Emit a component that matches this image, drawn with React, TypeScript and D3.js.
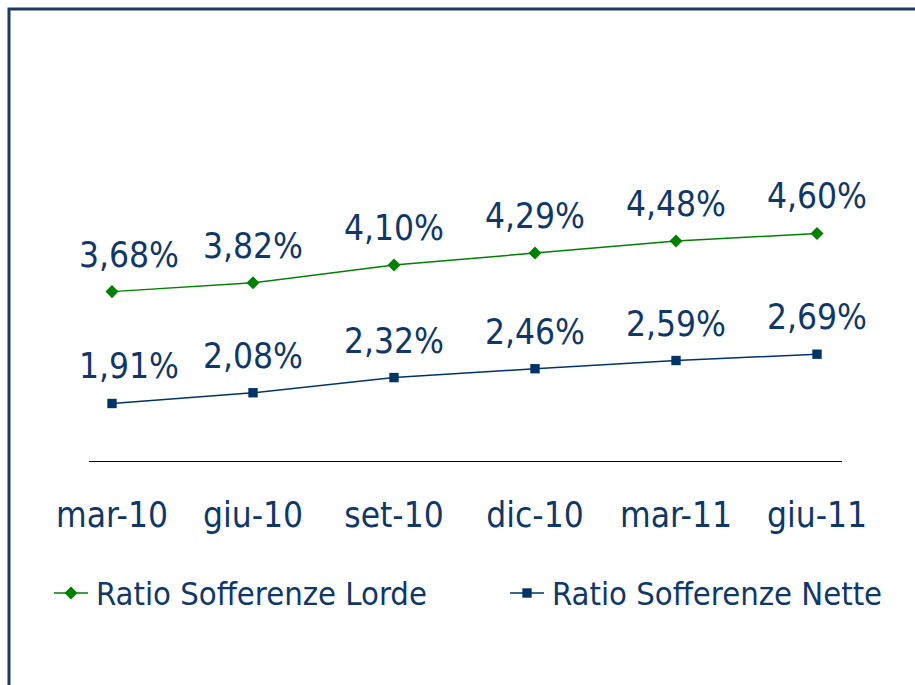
import React, { useEffect, useRef } from 'react';
import * as d3 from 'd3';

const categories = ['mar-10', 'giu-10', 'set-10', 'dic-10', 'mar-11', 'giu-11'];
const lordeValues = [3.68, 3.82, 4.10, 4.29, 4.48, 4.60];
const netteValues = [1.91, 2.08, 2.32, 2.46, 2.59, 2.69];
const seriesNames = ['Ratio Sofferenze Lorde', 'Ratio Sofferenze Nette'];

const W = 915;
const H = 685;
const FONT = '"DejaVu Sans Condensed", "DejaVu Sans", sans-serif';
const TEXT = '#0f3868';
const GREEN = '#008000';
const NAVY = '#003366';

function fmt(v: number) {
  return v.toFixed(2).replace('.', ',') + '%';
}

export default function App() {
  const ref = useRef<SVGSVGElement>(null);

  useEffect(() => {
    const svg = d3.select(ref.current);
    svg.selectAll('*').remove();

    // frame
    svg.append('rect')
      .attr('x', 9).attr('y', 9)
      .attr('width', W).attr('height', H)
      .attr('fill', 'none')
      .attr('stroke', '#1f3864')
      .attr('stroke-width', 3);

    const x = d3.scalePoint<string>().domain(categories).range([112, 817]);
    const y = d3.scaleLinear().domain([1, 6]).range([461, 145]);

    // category axis line
    svg.append('line')
      .attr('x1', 89).attr('x2', 842)
      .attr('y1', y(1) + 0.5).attr('y2', y(1) + 0.5)
      .attr('stroke', '#000').attr('stroke-width', 1);

    svg.append('g').selectAll('text')
      .data(categories)
      .enter().append('text')
      .attr('x', d => x(d)!)
      .attr('y', 527)
      .attr('text-anchor', 'middle')
      .style('font-family', FONT)
      .style('font-size', '35px')
      .attr('fill', TEXT)
      .text(d => d);

    // diamond = square turned by 45 degrees
    const series = [
      { name: seriesNames[0], values: lordeValues, color: GREEN, size: 85, rot: 45 },
      { name: seriesNames[1], values: netteValues, color: NAVY, size: 88, rot: 0 },
    ];
    const marker = (size: number) => d3.symbol(d3.symbolSquare, size)();

    const line = d3.line<number>()
      .x((_, i) => x(categories[i])!)
      .y(d => y(d));

    series.forEach(s => {
      const g = svg.append('g');
      g.append('path')
        .datum(s.values)
        .attr('d', line)
        .attr('fill', 'none')
        .attr('stroke', s.color)
        .attr('stroke-width', 1.5);

      g.selectAll('path.m')
        .data(s.values)
        .enter().append('path')
        .attr('class', 'm')
        .attr('d', marker(s.size))
        .attr('transform', (d, i) => `translate(${x(categories[i])},${y(d)}) rotate(${s.rot})`)
        .attr('fill', s.color);

      g.selectAll('text')
        .data(s.values)
        .enter().append('text')
        .attr('x', (d, i) => x(categories[i])! + (i === 0 ? 17 : 0))
        .attr('y', d => y(d) - 25)
        .attr('text-anchor', 'middle')
        .style('font-family', FONT)
        .style('font-size', '35px')
        .attr('fill', TEXT)
        .text(d => fmt(d));
    });

    // legend
    const legendX = [54, 510];
    series.forEach((s, i) => {
      const lg = svg.append('g').attr('transform', `translate(${legendX[i]},593)`);
      lg.append('line')
        .attr('x1', 0).attr('x2', 34)
        .attr('stroke', s.color).attr('stroke-width', 1.5);
      lg.append('path')
        .attr('d', marker(s.size))
        .attr('transform', `translate(17,0) rotate(${s.rot})`)
        .attr('fill', s.color);
      lg.append('text')
        .attr('x', 42)
        .attr('y', 12)
        .style('font-family', FONT)
        .style('font-size', '32.5px')
        .attr('fill', TEXT)
        .text(s.name);
    });
  }, []);

  return (
    <svg
      ref={ref}
      width={W}
      height={H}
      style={{ position: 'absolute', left: 0, top: 0, background: '#fff' }}
    />
  );
}
